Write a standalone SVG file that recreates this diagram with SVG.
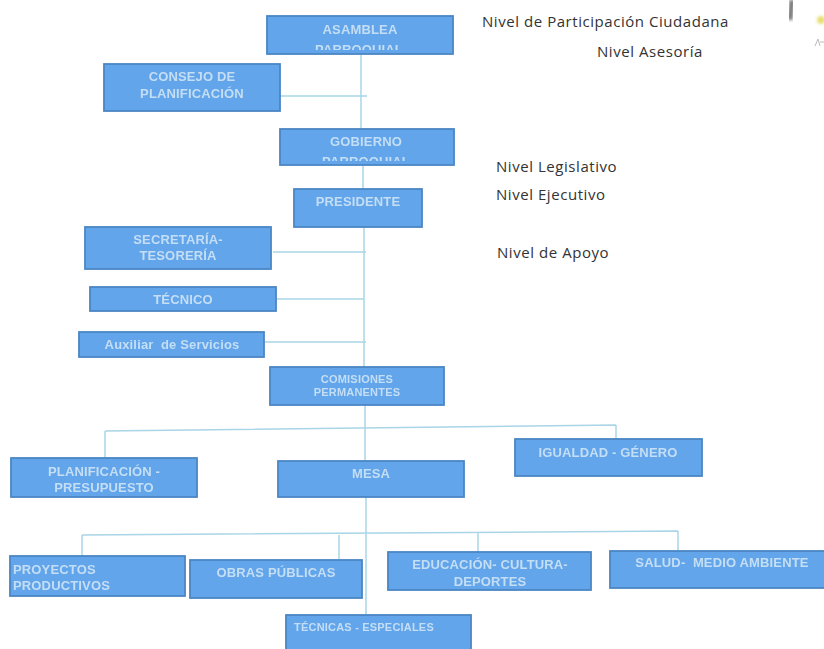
<svg xmlns="http://www.w3.org/2000/svg" width="824" height="649" viewBox="0 0 824 649">
<style>
.box{fill:#62a5ea;stroke:#4c86c4;stroke-width:1.8}
.t{font-family:"Liberation Sans",Arial,sans-serif;font-weight:700;fill:#c4def5;text-anchor:middle;font-size:13px;letter-spacing:.15px}
.s{font-size:11px;letter-spacing:.2px}
.st{text-anchor:start}
.n{font-family:"Open Sans","Liberation Sans",sans-serif;fill:#333;font-size:15px;letter-spacing:.55px}
.c{fill:none;stroke:#a9d5e6;stroke-width:1.5}
.node{filter:url(#soft)}
</style>
<defs>
<clipPath id="c1"><rect x="267" y="16" width="186" height="34"/></clipPath>
<clipPath id="c2"><rect x="280" y="129" width="174" height="32"/></clipPath>
<filter id="b" x="-50%" y="-50%" width="200%" height="200%"><feGaussianBlur stdDeviation="1.6"/></filter>
<filter id="soft" x="-5%" y="-10%" width="110%" height="120%"><feGaussianBlur stdDeviation="0.45"/></filter>
</defs>
<rect width="824" height="649" fill="#fff"/>
<g id="connectors">
<path class="c" d="M361 54V129M280 96H367M363 165V189M364 227V367M273 252H366M276 299H364M265 342H366M365 405V460M105 431V458M105 431L616 425M616 425V439M366 497V614M82 535L678 531M82 535V556M339 535V559M478 532V552M678 531V550"/>
</g>
<g id="logo">
<path d="M792 0Q791 10 790 20" stroke="#777" stroke-width="5" fill="none" filter="url(#b)"/>
<circle cx="821" cy="20" r="4" fill="#e6e070" filter="url(#b)"/>
<path d="M815 46L818 39L820 46M820 42H824" stroke="#bbb" stroke-width="1" fill="none"/>
</g>
<g id="n-asamblea" class="node"><rect class="box" x="267" y="16" width="186" height="38"/><g clip-path="url(#c1)"><text class="t" x="360" y="34">ASAMBLEA</text><text class="t" x="359" y="54">PARROQUIAL</text></g></g>
<g id="n-consejo" class="node"><rect class="box" x="104" y="64" width="176" height="47"/><text class="t" x="192" y="81">CONSEJO DE</text><text class="t" x="192" y="98">PLANIFICACIÓN</text></g>
<g id="n-gobierno" class="node"><rect class="box" x="280" y="129" width="174" height="36"/><g clip-path="url(#c2)"><text class="t" x="366" y="146">GOBIERNO</text><text class="t" x="366" y="166">PARROQUIAL</text></g></g>
<g id="n-presidente" class="node"><rect class="box" x="294" y="189" width="128" height="38"/><text class="t" x="358" y="206">PRESIDENTE</text></g>
<g id="n-secretaria" class="node"><rect class="box" x="85" y="227" width="186" height="42"/><text class="t" x="178" y="244">SECRETARÍA-</text><text class="t" x="178" y="260">TESORERÍA</text></g>
<g id="n-tecnico" class="node"><rect class="box" x="90" y="287" width="186" height="24"/><text class="t" x="183" y="304">TÉCNICO</text></g>
<g id="n-auxiliar" class="node"><rect class="box" x="79" y="332" width="185" height="25"/><text class="t" x="172" y="349" xml:space="preserve">Auxiliar  de Servicios</text></g>
<g id="n-comisiones" class="node"><rect class="box" x="270" y="367" width="174" height="38"/><text class="t s" x="357" y="383">COMISIONES</text><text class="t s" x="357" y="396">PERMANENTES</text></g>
<g id="n-planificacion" class="node"><rect class="box" x="11" y="458" width="186" height="39"/><text class="t" x="104" y="476">PLANIFICACIÓN -</text><text class="t" x="104" y="492">PRESUPUESTO</text></g>
<g id="n-mesa" class="node"><rect class="box" x="278" y="461" width="186" height="36"/><text class="t" x="371" y="478">MESA</text></g>
<g id="n-igualdad" class="node"><rect class="box" x="515" y="439" width="187" height="37"/><text class="t" x="608" y="457">IGUALDAD - GÉNERO</text></g>
<g id="n-proyectos" class="node"><rect class="box" x="10" y="556" width="175" height="40"/><text class="t st" x="13" y="574">PROYECTOS</text><text class="t st" x="13" y="590">PRODUCTIVOS</text></g>
<g id="n-obras" class="node"><rect class="box" x="190" y="560" width="172" height="38"/><text class="t" x="276" y="577">OBRAS PÚBLICAS</text></g>
<g id="n-educacion" class="node"><rect class="box" x="388" y="552" width="203" height="38"/><text class="t" x="490" y="569">EDUCACIÓN- CULTURA-</text><text class="t" x="490" y="586">DEPORTES</text></g>
<g id="n-salud" class="node"><rect class="box" x="610" y="551" width="215" height="37"/><text class="t" x="722" y="567" xml:space="preserve">SALUD-  MEDIO AMBIENTE</text></g>
<g id="n-tecnicas" class="node"><rect class="box" x="286" y="615" width="185" height="35"/><text class="t s" x="364" y="631">TÉCNICAS - ESPECIALES</text></g>
<g id="levels">
<text class="n" x="482" y="27">Nivel de Participación Ciudadana</text>
<text class="n" x="597" y="57">Nivel Asesoría</text>
<text class="n" x="496" y="172">Nivel Legislativo</text>
<text class="n" x="496" y="200">Nivel Ejecutivo</text>
<text class="n" x="497" y="258">Nivel de Apoyo</text>
</g>
</svg>
